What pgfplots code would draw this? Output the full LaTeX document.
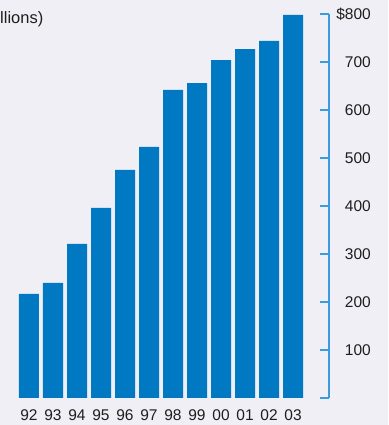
\documentclass[border=0pt]{standalone}
\usepackage{pgfplots}
\pgfplotsset{compat=1.18}
\usepackage{fontspec}
\setmainfont{Liberation Sans}
\definecolor{bg}{RGB}{240,239,245}
\definecolor{barblue}{RGB}{0,121,194}
\definecolor{axblue}{RGB}{60,155,220}
\definecolor{txt}{RGB}{30,30,30}
\begin{document}
\fontsize{15.5}{18}\selectfont
\begin{tikzpicture}[x=1pt,y=1pt]
\clip (0,0) rectangle (388,425);
\fill[bg] (0,0) rectangle (388,425);
\node[anchor=base east, inner sep=0pt, text=txt, font=\fontsize{16.5}{19}\selectfont] at (43.5,401) {(in billions)};
\begin{axis}[
  at={(0pt,27pt)}, anchor=south west, scale only axis,
  width=329pt, height=384pt,
  xmin=-1.2083, xmax=12.5, ymin=0, ymax=800,
  axis y line*=right, axis x line*=bottom,
  x axis line style={draw=none},
  y axis line style={draw=axblue, line width=1.8pt},
  ytick={0,100,...,800},
  yticklabels={,100,200,300,400,500,600,700,\$800},
  ytick style={draw=axblue, line width=1.8pt},
  major tick length=9pt, tick align=inside,
  yticklabel style={anchor=east, inner sep=0pt, xshift=42pt, text=txt},
  xtick={0,...,11},
  xticklabels={92,93,94,95,96,97,98,99,00,01,02,03},
  xtick style={draw=none},
  xticklabel style={anchor=base, inner sep=0pt, text=txt, yshift=-13pt},
  ybar, bar width=20pt, clip=false,
]
\addplot[fill=barblue, draw=none] coordinates {
  (0,217) (1,240) (2,321) (3,396) (4,475) (5,523)
  (6,642) (7,656) (8,704) (9,727) (10,744) (11,798)};
\end{axis}
\end{tikzpicture}
\end{document}
